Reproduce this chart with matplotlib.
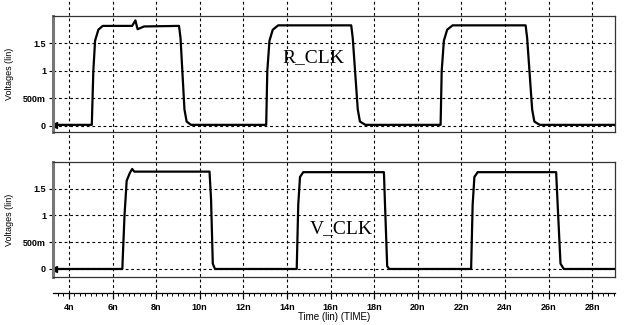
import matplotlib.pyplot as plt
import numpy as np

# R_CLK trace (time in ns, voltage in V)
r_time = [3.3, 5.05, 5.12, 5.2, 5.35, 5.55, 6.9, 7.05, 7.15, 7.45, 9.05, 9.12, 9.3, 9.4, 9.6,
          13.05, 13.1, 13.2, 13.35, 13.6, 16.95, 17.02, 17.25, 17.35, 17.6,
          21.05, 21.1, 21.2, 21.35, 21.6, 24.95, 25.02, 25.25, 25.35, 25.6, 29.0]
r_volt = [0.02, 0.02, 1.0, 1.55, 1.75, 1.82, 1.82, 1.92, 1.76, 1.81, 1.82, 1.6, 0.3, 0.08, 0.02,
          0.02, 1.0, 1.55, 1.75, 1.83, 1.83, 1.6, 0.3, 0.08, 0.02,
          0.02, 1.0, 1.55, 1.75, 1.83, 1.83, 1.6, 0.3, 0.08, 0.02, 0.02]

# V_CLK trace
v_time = [3.3, 6.45, 6.55, 6.65, 6.8, 6.9, 7.0, 10.45, 10.52, 10.6, 10.7,
          14.45, 14.52, 14.6, 14.75, 18.45, 18.5, 18.6, 18.7,
          22.45, 22.52, 22.6, 22.75, 26.35, 26.42, 26.55, 26.7, 29.0]
v_volt = [0.0, 0.0, 1.0, 1.65, 1.80, 1.87, 1.82, 1.82, 1.3, 0.1, 0.0,
          0.0, 1.2, 1.72, 1.81, 1.81, 1.2, 0.05, 0.0,
          0.0, 1.2, 1.72, 1.81, 1.81, 1.2, 0.1, 0.0, 0.0]

y_ticks = [0, 0.5, 1, 1.5]
y_ticklabels = ['0', '500m', '1', '1.5']
x_ticks = list(range(4, 30, 2))
x_ticklabels = [f'{t}n' for t in x_ticks]

plt.rcParams['font.family'] = ['Liberation Sans', 'DejaVu Sans']

fig = plt.figure(figsize=(6.24, 3.25), dpi=100)
L, R = 53 / 624, 615 / 624
xlim = (3.27, 29.05)
dash = (0, (2.5, 2.5))

# background axis for the vertical grid that runs through both panels
bg = fig.add_axes([L, 1 - 293 / 325, R - L, 293 / 325])
bg.set_xlim(xlim)
bg.set_ylim(0, 1)
bg.axis('off')
for t in x_ticks:
    bg.axvline(t, color='black', lw=0.8, linestyle=dash)


def panel(bottom_px, top_px, ylim, t, v, label, label_xy):
    ax = fig.add_axes([L, 1 - bottom_px / 325, R - L, (bottom_px - top_px) / 325])
    ax.patch.set_alpha(0)
    ax.set_xlim(xlim)
    ax.set_ylim(ylim)
    for y in y_ticks:
        ax.axhline(y, color='black', lw=0.8, linestyle=dash)
    ax.plot(t, v, color='black', lw=1.6)
    ax.plot(t[0], v[0], marker='<', color='black', ms=4)
    ax.set_xticks([])
    ax.set_yticks(y_ticks)
    ax.set_yticklabels(y_ticklabels, fontsize=6.5, fontweight='bold')
    ax.tick_params(axis='y', length=3, width=0.8, pad=2)
    ax.set_ylabel('Voltages (lin)', fontsize=6.5)
    ax.yaxis.set_label_coords(-0.07, 0.5)
    for s in ['top', 'right', 'bottom']:
        ax.spines[s].set_linewidth(0.9)
        ax.spines[s].set_color('#333333')
    ax.spines['left'].set_linewidth(2.2)
    ax.spines['left'].set_color('#777777')
    ax.text(label_xy[0], label_xy[1], label, family='Liberation Serif', fontsize=14,
            ha='center', va='center')
    return ax


panel(132, 16, (-0.11, 2.0), r_time, r_volt, 'R_CLK', (15.2, 1.25))
panel(277, 162, (-0.15, 2.0), v_time, v_volt, 'V_CLK', (16.5, 0.76))

# time ruler under the panels
ru = fig.add_axes([L, 1 - 293 / 325, R - L, 0.001])
ru.set_xlim(xlim)
ru.set_yticks([])
for s in ['top', 'right', 'left']:
    ru.spines[s].set_visible(False)
ru.spines['bottom'].set_linewidth(0.9)
ru.set_xticks(x_ticks)
ru.set_xticklabels(x_ticklabels, fontsize=6.5, fontweight='bold')
ru.set_xticks(np.arange(3.5, 29.01, 0.25), minor=True)
ru.tick_params(axis='x', which='major', length=4, width=0.9, pad=3)
ru.tick_params(axis='x', which='minor', length=2, width=0.7)
ru.set_xlabel('Time (lin) (TIME)', fontsize=7, labelpad=0)

plt.savefig('out.png', dpi=100)
